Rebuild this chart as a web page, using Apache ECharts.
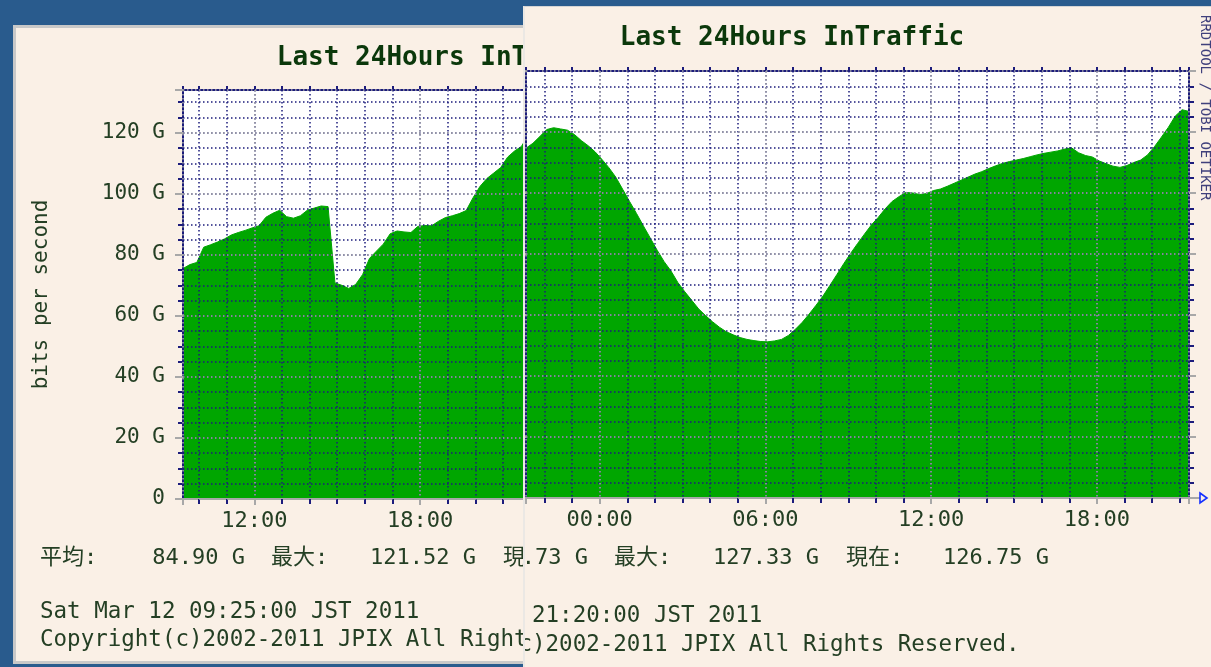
<!DOCTYPE html>
<html>
<head>
<meta charset="utf-8">
<title>Last 24Hours InTraffic</title>
<script src="https://cdn.jsdelivr.net/npm/echarts@6/dist/echarts.min.js"></script>
<style>
  html, body { margin: 0; padding: 0; width: 1211px; height: 667px; overflow: hidden; background: #295b8d; }
  #leftPanel { position: absolute; left: 13px; top: 25px; width: 872px; height: 639px; box-sizing: border-box;
               border: 3px solid #c8c8c8; background: #faf0e6; }
  #leftChart { position: absolute; left: -3px; top: -3px; width: 872px; height: 639px; }
  #rightClip { position: absolute; left: 523px; top: 6px; width: 688px; height: 661px; overflow: hidden; box-sizing: border-box;
               border-left: 2px solid #ebe8e4; border-top: 1px solid #d4d4d4; background: #faf0e6; }
  #rightChart { position: absolute; left: -169px; top: -1px; width: 872px; height: 670px; }
</style>
</head>
<body>
<div id="leftPanel"><div id="leftChart"></div></div>
<div id="rightClip"><div id="rightChart"></div></div>
<script>
// 15 minute samples, x values in hours counted from Mar 11 00:00
const STEP = 0.25;
const leftStart = 9 + 25 / 60;   // 09:25
const rightStart = 21 + 20 / 60; // 21:20

// G bits per second
const leftValues = [
  75.5, 76.8, 77.5, 82.5, 83.3, 84.2, 85.2, 86.5, 87.3, 88.0,
  88.8, 89.5, 92.3, 93.6, 94.6, 92.5, 92.0, 92.8, 94.6, 95.3,
  96.0, 95.8, 70.8, 70.0, 69.0, 70.3, 73.5, 78.8, 81.2, 83.5,
  86.9, 87.8, 87.5, 87.3, 89.3, 89.6, 89.5, 91.0, 92.2, 92.8,
  93.5, 94.5, 98.7, 102.4, 105.0, 106.8, 108.6, 112.0, 114.0, 115.5,
  119.3, 121.0, 121.3, 120.9, 120.1, 118.5, 116.6, 114.8, 112.7, 110.1,
  107.3, 103.9, 99.9, 95.9, 91.9, 87.9, 83.9, 80.0, 76.5, 73.1,
  69.6, 66.7, 63.9, 61.3, 59.1, 57.2, 55.5, 54.2, 53.2, 52.4,
  51.9, 51.5, 51.3, 51.3, 51.7, 52.4, 54.0, 56.1, 58.5, 61.3,
  64.2, 67.4, 70.9, 74.4, 77.9, 81.3, 84.4
];
const rightValues = [
  114.7, 116.3, 118.5, 120.8, 121.4, 121.0, 120.6, 119.2, 117.2, 115.5,
  113.5, 111.0, 108.3, 105.2, 101.2, 97.2, 93.3, 89.2, 85.2, 81.2,
  77.5, 74.4, 70.6, 67.6, 64.8, 62.0, 59.8, 57.8, 56.0, 54.5,
  53.5, 52.6, 52.0, 51.6, 51.3, 51.2, 51.5, 52.0, 53.3, 55.3,
  57.6, 60.3, 63.2, 66.2, 69.7, 73.2, 76.8, 80.2, 83.4, 86.5,
  89.5, 92.0, 94.8, 97.2, 98.8, 100.2, 100.0, 99.5, 99.8, 100.8,
  101.3, 102.2, 103.2, 104.2, 105.2, 106.2, 107.0, 108.0, 108.9, 109.7,
  110.3, 110.8, 111.3, 111.9, 112.5, 113.0, 113.4, 113.8, 114.4, 114.8,
  113.2, 112.3, 111.8, 110.5, 109.6, 108.8, 108.4, 109.0, 110.0, 110.8,
  112.5, 115.2, 118.3, 121.5, 125.2, 127.3, 126.75
];

const statLabels = ['平均:', '最大:', '現在:'];
const leftStats = ['84.90 G', '121.52 G', '84.41 G'];
const rightStats = ['94.73 G', '127.33 G', '126.75 G'];
const leftStamp = 'Sat Mar 12 09:25:00 JST 2011';
const rightStamp = 'Sat Mar 12 21:20:00 JST 2011';
const titleText = 'Last 24Hours InTraffic';
const yTitle = 'bits per second';
const copyText = 'Copyright(c)2002-2011 JPIX All Rights Reserved.';
const markText = 'RRDTOOL / TOBI OETIKER';

const MONO = '"DejaVu Sans Mono", "Noto Sans CJK JP", monospace';
const NAVY = '#1c1c7c';
const GRAY = '#a8a8a8';
const GREEN = '#00a600';
const TXT = '#243f24';
const PLOT_LEFT = 170;
const PLOT_W = 663;

function hourLabel(v) {
  const h = Math.round(v);
  if (Math.abs(v - h) > 1e-6 || h % 6 !== 0) return '';
  return String(h % 24).padStart(2, '0') + ':00';
}

function gLabel(v) {
  if (v % 20 !== 0) return '';
  return v === 0 ? '0' : v + ' G';
}

function buildOption(values, start, yMax, stats, stamp, lay) {
  const end = start + 24;
  const pts = values.map((v, i) => [start + i * STEP, v]);
  const plotBottom = lay.top + lay.height;
  const plotRight = PLOT_LEFT + PLOT_W;
  const dots = (color) => ({ show: true, lineStyle: { color: color, width: 1.5, type: [1.5, 2.5] } });
  const off = { show: false };

  const xAxis = [
    { // hourly grid, bottom ticks
      type: 'value', min: start, max: end, minInterval: 1, maxInterval: 1, position: 'bottom', z: 5,
      axisLine: { show: true, onZero: false, lineStyle: { color: GRAY, width: 2 } },
      axisTick: { show: true, length: 5, lineStyle: { color: NAVY, width: 2 } },
      axisLabel: off, splitLine: dots(NAVY)
    },
    { // every 6 hours, labelled
      type: 'value', min: start, max: end, minInterval: 6, maxInterval: 6, position: 'bottom', z: 6,
      axisLine: { show: false, onZero: false },
      axisTick: { show: true, length: 6, lineStyle: { color: GRAY, width: 2 } },
      axisLabel: { show: true, margin: 11, formatter: hourLabel, color: TXT, fontFamily: MONO, fontSize: 22 },
      splitLine: dots(GRAY)
    },
    { // top border
      type: 'value', min: start, max: end, minInterval: 1, maxInterval: 1, position: 'top', z: 5,
      axisLine: { show: true, onZero: false, lineStyle: { color: NAVY, width: 2 } },
      axisTick: { show: true, length: 4, lineStyle: { color: NAVY, width: 2 } },
      axisLabel: off, splitLine: off
    }
  ];

  const yAxis = [
    {
      type: 'value', min: 0, max: yMax, minInterval: 5, maxInterval: 5, position: 'left', z: 5,
      axisLine: { show: true, onZero: false, lineStyle: { color: NAVY, width: 2 } },
      axisTick: { show: true, length: 5, lineStyle: { color: NAVY, width: 2 } },
      axisLabel: off, splitLine: dots(NAVY)
    },
    {
      type: 'value', min: 0, max: yMax, interval: 20, position: 'left', z: 6,
      axisLine: { show: false, onZero: false },
      axisTick: { show: true, length: 8, lineStyle: { color: GRAY, width: 2 } },
      axisLabel: { show: true, margin: 18, formatter: gLabel, color: TXT, fontFamily: MONO, fontSize: 21 },
      splitLine: dots(GRAY)
    },
    {
      type: 'value', min: 0, max: yMax, minInterval: 5, maxInterval: 5, position: 'right', z: 5,
      axisLine: { show: true, onZero: false, lineStyle: { color: NAVY, width: 2 } },
      axisTick: { show: true, length: 5, lineStyle: { color: NAVY, width: 2 } },
      axisLabel: off, splitLine: off
    },
    {
      type: 'value', min: 0, max: yMax, interval: 20, position: 'right', z: 6,
      axisLine: { show: false, onZero: false },
      axisTick: { show: true, length: 7, lineStyle: { color: GRAY, width: 2 } },
      axisLabel: off, splitLine: off
    }
  ];

  const text = (x, y, str, extra) => ({
    type: 'text', x: x, y: y, z: 20,
    style: Object.assign({ text: str, fill: TXT, fontFamily: MONO, fontSize: 22, align: 'left', verticalAlign: 'middle' }, extra || {})
  });

  const graphic = [
    text(436, lay.titleY, titleText, { fill: '#0b380b', fontSize: 26, fontWeight: 'bold', align: 'center' }),
    Object.assign(text(29, lay.top + lay.height / 2, yTitle, { fontSize: 21, align: 'center' }), { rotation: Math.PI / 2 }),
    text(27, lay.statsY, statLabels[0]),
    text(232, lay.statsY, stats[0], { align: 'right' }),
    text(258, lay.statsY, statLabels[1]),
    text(463, lay.statsY, stats[1], { align: 'right' }),
    text(490, lay.statsY, statLabels[2]),
    text(693, lay.statsY, stats[2], { align: 'right' }),
    text(27, lay.dateY, stamp, { fontSize: 22.5 }),
    text(27, lay.copyY, copyText, { fontSize: 22.5 }),
    Object.assign(text(849, 9, markText, { fill: '#40407c', fontSize: 14 }), { rotation: -Math.PI / 2 }),
    { type: 'line', z: 20, shape: { x1: plotRight, y1: plotBottom, x2: plotRight + 11, y2: plotBottom },
      style: { stroke: GRAY, lineWidth: 2 } },
    { type: 'polygon', z: 21,
      shape: { points: [[plotRight + 11, plotBottom - 5], [plotRight + 18, plotBottom], [plotRight + 11, plotBottom + 5]] },
      style: { fill: 'none', stroke: '#1530ff', lineWidth: 1.6 } }
  ];

  return {
    animation: false,
    grid: { left: PLOT_LEFT, top: lay.top, width: PLOT_W, height: lay.height, show: true,
            backgroundColor: '#ffffff', borderWidth: 0, outerBoundsMode: 'none' },
    xAxis: xAxis,
    yAxis: yAxis,
    graphic: graphic,
    series: [{
      type: 'line', xAxisIndex: 0, yAxisIndex: 0, z: 1,
      data: pts, showSymbol: false, symbol: 'none',
      lineStyle: { color: GREEN, width: 1 },
      areaStyle: { color: GREEN, opacity: 1 }
    }]
  };
}

const leftChart = echarts.init(document.getElementById('leftChart'));
leftChart.setOption(buildOption(leftValues, leftStart, 134, leftStats, leftStamp,
  { top: 65, height: 409, titleY: 33, statsY: 533, dateY: 587, copyY: 615 }));

const rightChart = echarts.init(document.getElementById('rightChart'));
rightChart.setOption(buildOption(rightValues, rightStart, 140, rightStats, rightStamp,
  { top: 65, height: 427, titleY: 32, statsY: 552, dateY: 610, copyY: 639 }));
</script>
</body>
</html>
